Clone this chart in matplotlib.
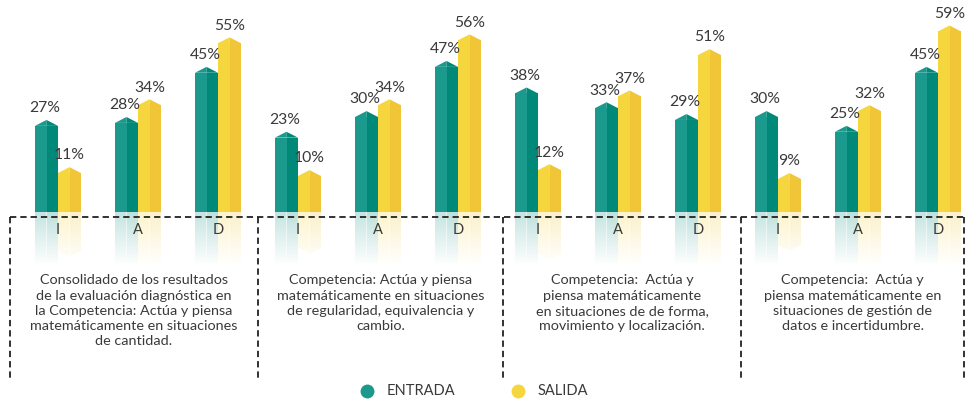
import numpy as np
import matplotlib
matplotlib.use("Agg")
import matplotlib.pyplot as plt
from matplotlib.patches import Polygon
from matplotlib.colors import to_rgb

plt.rcParams['font.family'] = ['Lato', 'DejaVu Sans']

# ---------------- data ----------------
categories = ["I", "A", "D"]
series_names = ["ENTRADA", "SALIDA"]
entrada = [27, 28, 45, 23, 30, 47, 38, 33, 29, 30, 25, 45]
salida = [11, 34, 55, 10, 34, 56, 12, 37, 51, 9, 32, 59]
group_texts = [
    "Consolidado de los resultados\nde la evaluación diagnóstica en\nla Competencia: Actúa y piensa\nmatemáticamente en situaciones\nde cantidad.",
    "Competencia: Actúa y piensa\nmatemáticamente en situaciones\nde regularidad, equivalencia y\ncambio.",
    "Competencia:  Actúa y\npiensa matemáticamente\nen situaciones de de forma,\nmovimiento y localización.",
    "Competencia:  Actúa y\npiensa matemáticamente en\nsituaciones de gestión de\ndatos e incertidumbre.",
]

# ---------------- style ----------------
light = {"ENTRADA": "#1a998c", "SALIDA": "#f6d63e"}
dark = {"ENTRADA": "#008879", "SALIDA": "#f1c538"}
text_color = "#3a3a3a"
BASE = -2.2        # visual floor of bars
ROOF = 2.0         # height of pointed roof
W = 0.2875         # width of one bar
FADE_END = -20.5   # where reflection vanishes

fig = plt.figure(figsize=(9.66, 4.01), dpi=100)
ax = fig.add_axes([0, 0, 1, 1])
ax.set_axis_off()

n = len(entrada)
x = np.arange(n)

def draw_bar(xl, v, name):
    xc = xl + W / 2
    xr = xl + W
    cl, cd = light[name], dark[name]
    ax.bar(xl, v - BASE, width=W / 2, bottom=BASE, align='edge', color=cl, lw=0, zorder=3)
    ax.bar(xc, v - BASE, width=W / 2, bottom=BASE, align='edge', color=cd, lw=0, zorder=3)
    ax.add_patch(Polygon([(xl, v), (xc, v + ROOF), (xc, v)], closed=True, color=cl, lw=0, zorder=3))
    ax.add_patch(Polygon([(xc, v), (xc, v + ROOF), (xr, v)], closed=True, color=cd, lw=0, zorder=3))
    # reflection
    ms = 2 * BASE - v
    mp = ms - ROOF
    for (a, b, c, pts) in [
        (xl, xc, cl, [(xl, BASE), (xl, ms), (xc, mp), (xc, BASE)]),
        (xc, xr, cd, [(xc, BASE), (xc, mp), (xr, ms), (xr, BASE)]),
    ]:
        rgb = to_rgb(c)
        grad = np.zeros((100, 2, 4))
        grad[..., :3] = rgb
        alpha = np.linspace(0.26, 0.0, 100)[:, None]
        grad[..., 3] = alpha
        im = ax.imshow(grad, extent=(a, b, FADE_END, BASE), origin='upper',
                       aspect='auto', interpolation='bilinear', zorder=2)
        poly = Polygon(pts, closed=True, transform=ax.transData, fc='none', ec='none')
        ax.add_patch(poly)
        im.set_clip_path(poly)

for i in range(n):
    draw_bar(x[i] - W, entrada[i], series_names[0])
    draw_bar(x[i], salida[i], series_names[1])
    ax.text(x[i] - W / 2 - 0.02, entrada[i] + ROOF + 2.6, f"{entrada[i]}%", ha='center',
            va='baseline', fontsize=11.3, color=text_color, zorder=5)
    ax.text(x[i] + W / 2, salida[i] + ROOF + 2.6, f"{salida[i]}%", ha='center',
            va='baseline', fontsize=11.3, color=text_color, zorder=5)
    ax.text(x[i], -8.3, categories[i % 3], ha='center', va='center',
            fontsize=10.5, color=text_color, zorder=5)

# dashed frame
bounds = [-0.6, 2.5, 5.56, 8.54, 11.33]
line_y = -3.75
bottom_y = -59.2
dash = dict(color='#222222', lw=1.3, ls=(0, (3.5, 2.2)), zorder=6)
ax.plot([bounds[0], bounds[-1]], [line_y, line_y], **dash)
for b in bounds:
    ax.plot([b, b], [line_y, bottom_y], **dash)

for g, t in enumerate(group_texts):
    cx = (bounds[g] + bounds[g + 1]) / 2
    ax.text(cx, -23.3, t, ha='center', va='top', fontsize=10.4, color=text_color,
            linespacing=1.33, zorder=5)

# legend
leg_y = -62.9
leg_x = [3.86, 5.75]
for lx, name in zip(leg_x, series_names):
    ax.scatter([lx], [leg_y], s=100, color=light[name], lw=0, zorder=5)
    ax.text(lx + 0.25, leg_y, name, ha='left', va='center', fontsize=10.5,
            color=text_color, zorder=5)

ax.set_xlim(-58 / 80, (966 - 58) / 80)
ax.set_ylim(-(401 - 205.5) / 2.95, 205.5 / 2.95)

fig.savefig("out.png", dpi=100)
